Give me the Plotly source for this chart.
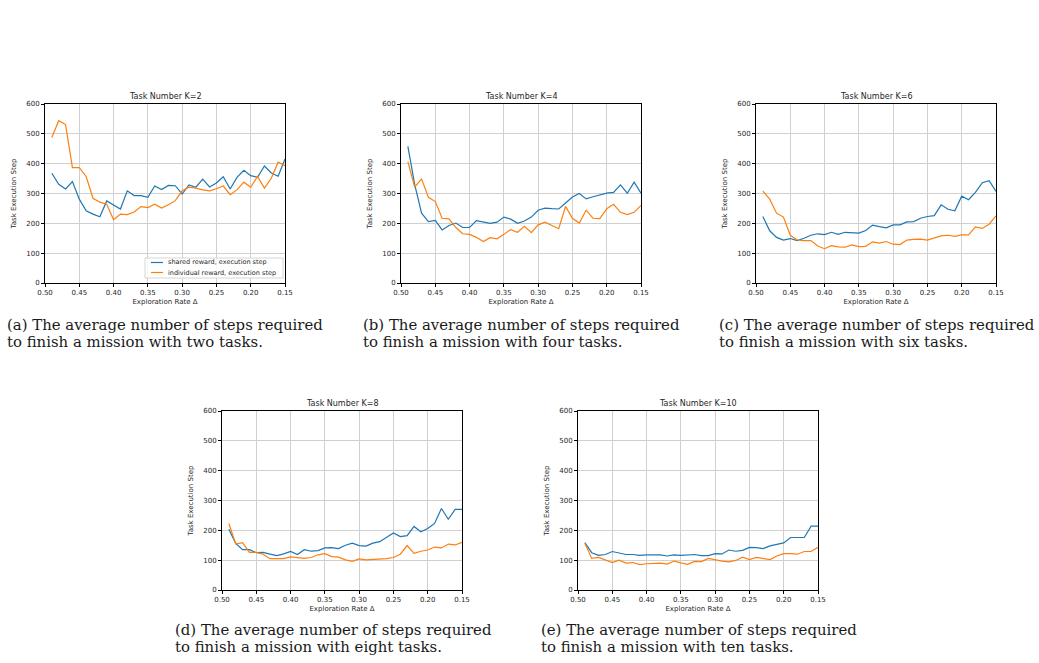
import plotly.graph_objects as go

exploration_rate = [0.49, 0.48, 0.47, 0.46, 0.45, 0.44, 0.43, 0.42, 0.41, 0.40,
                    0.39, 0.38, 0.37, 0.36, 0.35, 0.34, 0.33, 0.32, 0.31, 0.30,
                    0.29, 0.28, 0.27, 0.26, 0.25, 0.24, 0.23, 0.22, 0.21, 0.20,
                    0.19, 0.18, 0.17, 0.16, 0.15]

shared_k2 = [368, 331, 315, 340, 281, 242, 231, 222, 275, 262, 248, 309, 293, 293, 287, 325, 313, 327, 326, 298,
             329, 321, 348, 322, 335, 356, 315, 354, 378, 360, 354, 392, 369, 358, 416]
indiv_k2 = [488, 544, 531, 387, 387, 357, 284, 271, 264, 212, 231, 229, 238, 256, 253, 264, 251, 262, 276, 309,
            321, 318, 312, 309, 316, 325, 296, 312, 338, 321, 357, 318, 351, 405, 393]

shared_k4 = [458, 330, 234, 206, 210, 178, 193, 201, 186, 186, 209, 204, 200, 204, 221, 214, 200, 208, 221, 244,
             251, 249, 248, 268, 288, 300, 282, 289, 296, 301, 304, 329, 301, 338, 301]
indiv_k4 = [407, 321, 349, 287, 273, 217, 215, 186, 165, 163, 153, 139, 152, 148, 163, 179, 170, 190, 169, 195,
            204, 193, 182, 257, 217, 201, 244, 217, 216, 249, 264, 237, 229, 237, 260]

shared_k6 = [223, 175, 153, 144, 149, 142, 150, 160, 165, 162, 170, 163, 170, 169, 167, 176, 194, 189, 185, 195,
             195, 205, 206, 217, 223, 226, 262, 247, 242, 291, 279, 304, 336, 343, 307]
indiv_k6 = [308, 281, 234, 221, 160, 144, 142, 142, 124, 115, 125, 121, 120, 128, 122, 123, 138, 134, 139, 130,
            129, 144, 146, 147, 144, 151, 158, 160, 156, 161, 161, 188, 183, 197, 225]

shared_k8 = [204, 156, 135, 135, 125, 126, 120, 115, 121, 129, 119, 135, 130, 132, 141, 142, 139, 150, 157, 149,
             147, 157, 162, 176, 191, 179, 182, 213, 195, 206, 223, 273, 237, 270, 270]
indiv_k8 = [223, 154, 159, 126, 126, 120, 105, 106, 105, 111, 109, 106, 109, 118, 122, 112, 110, 101, 96, 104,
            101, 102, 105, 105, 109, 120, 149, 123, 130, 134, 144, 141, 154, 151, 160]

shared_k10 = [159, 125, 116, 119, 129, 125, 119, 119, 116, 118, 118, 118, 114, 118, 116, 118, 119, 115, 115, 122,
              121, 134, 130, 133, 143, 142, 139, 148, 153, 158, 176, 176, 176, 214, 214]
indiv_k10 = [157, 106, 109, 101, 92, 100, 90, 92, 85, 88, 90, 90, 87, 97, 91, 86, 96, 95, 106, 101,
             97, 94, 99, 110, 102, 109, 105, 102, 114, 122, 122, 120, 129, 129, 143]

titles = ["Task Number K=2", "Task Number K=4", "Task Number K=6", "Task Number K=8", "Task Number K=10"]
shared_all = [shared_k2, shared_k4, shared_k6, shared_k8, shared_k10]
indiv_all = [indiv_k2, indiv_k4, indiv_k6, indiv_k8, indiv_k10]
captions = [
    ["(a) The average number of steps required", "to finish a mission with two tasks."],
    ["(b) The average number of steps required", "to finish a mission with four tasks."],
    ["(c) The average number of steps required", "to finish a mission with six tasks."],
    ["(d) The average number of steps required", "to finish a mission with eight tasks."],
    ["(e) The average number of steps required", "to finish a mission with ten tasks."],
]
series_names = ["shared reward, execution step", "individual reward, execution step"]
x_tick_vals = [0.50, 0.45, 0.40, 0.35, 0.30, 0.25, 0.20, 0.15]
y_tick_vals = [0, 100, 200, 300, 400, 500, 600]

W, H = 1039, 663
# plot-area pixel boxes (left, right, top, bottom)
boxes = [(45, 285, 104, 283), (401, 641, 104, 283), (756, 996, 104, 283),
         (222, 462, 411, 590), (578, 818, 411, 590)]
# caption left x, first-line centre y
caption_pos = [(6, 325), (362, 325), (718, 325), (174, 630), (540, 630)]
caption_line_gap = 17

BLUE = "#1f77b4"
ORANGE = "#ff7f0e"
FONT = "DejaVu Sans"
TXT = "#262626"

fig = go.Figure()
layout = dict(
    width=W, height=H,
    margin=dict(l=0, r=0, t=0, b=0),
    paper_bgcolor="white", plot_bgcolor="white",
    font=dict(family=FONT, size=7, color=TXT),
    showlegend=False,
    annotations=[], shapes=[],
)

for i in range(5):
    n = "" if i == 0 else str(i + 1)
    l, r, t, b = boxes[i]
    xd = [l / W, r / W]
    yd = [1 - b / H, 1 - t / H]
    fig.add_trace(go.Scatter(x=exploration_rate, y=shared_all[i], mode="lines",
                             line=dict(color=BLUE, width=1.2), name=series_names[0],
                             xaxis="x" + n, yaxis="y" + n))
    fig.add_trace(go.Scatter(x=exploration_rate, y=indiv_all[i], mode="lines",
                             line=dict(color=ORANGE, width=1.2), name=series_names[1],
                             xaxis="x" + n, yaxis="y" + n))
    layout["xaxis" + n] = dict(
        domain=xd, anchor="y" + n, range=[0.50, 0.15],
        tickvals=x_tick_vals, ticktext=["%.2f" % v for v in x_tick_vals],
        ticks="outside", ticklen=3, tickwidth=0.8, tickcolor="black",
        showline=True, linecolor="black", linewidth=0.8, mirror=True,
        showgrid=True, gridcolor="#d0d0d0", gridwidth=0.8, zeroline=False,
        tickfont=dict(size=7, color=TXT), automargin=False,
        title=dict(text="Exploration Rate Δ", font=dict(size=7, color=TXT), standoff=2),
    )
    layout["yaxis" + n] = dict(
        domain=yd, anchor="x" + n, range=[0, 600],
        tickvals=y_tick_vals,
        ticks="outside", ticklen=3, tickwidth=0.8, tickcolor="black",
        showline=True, linecolor="black", linewidth=0.8, mirror=True,
        showgrid=True, gridcolor="#d0d0d0", gridwidth=0.8, zeroline=False,
        tickfont=dict(size=7, color=TXT), automargin=False,
        title=dict(text="Task Execution Step", font=dict(size=7, color=TXT), standoff=8),
    )
    layout["annotations"].append(dict(
        text=titles[i], x=(l + r) / 2 / W, y=1 - (t - 1) / H, xref="paper", yref="paper",
        xanchor="center", yanchor="bottom", showarrow=False,
        font=dict(size=8, color=TXT, family=FONT)))
    cx, cy = caption_pos[i]
    for j, line in enumerate(captions[i]):
        layout["annotations"].append(dict(
            text=line, x=cx / W, y=1 - (cy + j * caption_line_gap) / H, xref="paper", yref="paper",
            xanchor="left", yanchor="middle", align="left", showarrow=False, borderpad=0,
            font=dict(size=14.9, color="#1a1a1a", family="DejaVu Serif")))

# legend box drawn inside subplot (a), matplotlib style
lg_l, lg_r, lg_t, lg_b = 145, 283, 258, 278
layout["shapes"].append(dict(type="rect", xref="paper", yref="paper",
                             x0=lg_l / W, x1=lg_r / W, y0=1 - lg_b / H, y1=1 - lg_t / H,
                             fillcolor="rgba(255,255,255,0.85)", line=dict(color="#cccccc", width=0.8)))
for k, (name, col) in enumerate(zip(series_names, [BLUE, ORANGE])):
    yy = 1 - (262.5 + 10 * k) / H
    layout["shapes"].append(dict(type="line", xref="paper", yref="paper",
                                 x0=151 / W, x1=163 / W, y0=yy, y1=yy,
                                 line=dict(color=col, width=1.2)))
    layout["annotations"].append(dict(
        text=name, x=167 / W, y=yy, xref="paper", yref="paper",
        xanchor="left", yanchor="middle", showarrow=False, borderpad=0,
        font=dict(size=6.5, color=TXT, family=FONT)))

fig.update_layout(**layout)
fig.write_html("out.html")
